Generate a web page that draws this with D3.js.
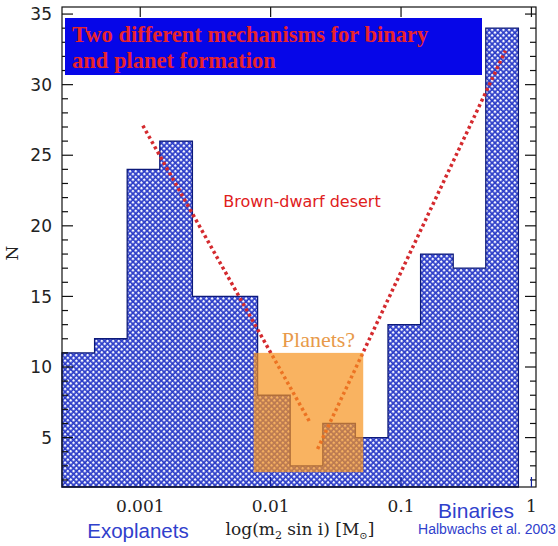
<!DOCTYPE html>
<html>
<head>
<meta charset="utf-8">
<script src="https://cdn.jsdelivr.net/npm/d3@7"></script>
<style>
  body { margin: 0; background: #fff; }
  svg { display: block; }
</style>
</head>
<body>
<div id="chart"></div>
<script>
// bin edges in log10(m2 sin i / Msun), 0.25 dex wide
var binEdges = [-3.6, -3.35, -3.1, -2.85, -2.6, -2.35, -2.1, -1.85, -1.6, -1.35, -1.1, -0.85, -0.6, -0.35, -0.1];
var counts = [11, 12, 24, 26, 15, 15, 8, 3, 6, 5, 13, 18, 17, 34];
var xTicks = [0.001, 0.01, 0.1, 1];
var xTickLabels = ["0.001", "0.01", "0.1", "1"];
var yTicks = [5, 10, 15, 20, 25, 30, 35];

// annotations, in data units: [log mass, N]
var desertLeft = [[-2.98, 27.1], [-1.70, 6.1]];
var desertRight = [[-1.64, 4.2], [-0.20, 32.4]];
var planetBox = { x0: -2.13, x1: -1.29, y0: 2.55, y1: 11 };

var width = 558, height = 546;

var svg = d3.select("#chart").append("svg")
  .attr("width", width)
  .attr("height", height);

var x = d3.scaleLinear().domain([-3.6, 0.035]).range([62, 536]);
var y = d3.scaleLinear().domain([1.5, 35.5]).range([487, 7]);

// diamond cross-hatch
var defs = svg.append("defs");
var pat = defs.append("pattern")
  .attr("id", "hatch")
  .attr("patternUnits", "userSpaceOnUse")
  .attr("patternTransform", "rotate(45)")
  .attr("width", 4).attr("height", 4);
pat.append("rect").attr("width", 4).attr("height", 4).attr("fill", "#2a3bc8");
pat.append("rect").attr("x", 0).attr("y", 0).attr("width", 2.3).attr("height", 2.3).attr("fill", "#f6f7ff");

// histogram outline
var pts = [[binEdges[0], y.domain()[0]]];
counts.forEach(function (c, i) {
  pts.push([binEdges[i], c]);
  pts.push([binEdges[i + 1], c]);
});
pts.push([binEdges[binEdges.length - 1], y.domain()[0]]);

var line = d3.line()
  .x(function (d) { return x(d[0]); })
  .y(function (d) { return y(d[1]); });

svg.append("path")
  .attr("d", line(pts) + "Z")
  .attr("fill", "url(#hatch)")
  .attr("stroke", "#0d1a7a")
  .attr("stroke-width", 1.3);

// frame
svg.append("rect")
  .attr("x", x.range()[0]).attr("y", y.range()[1])
  .attr("width", x.range()[1] - x.range()[0])
  .attr("height", y.range()[0] - y.range()[1])
  .attr("fill", "none")
  .attr("stroke", "#111")
  .attr("stroke-width", 1.2);

// y ticks, both sides
var g = svg.append("g").attr("stroke", "#111").attr("stroke-width", 1.2);
d3.range(2, 36).forEach(function (v) {
  var len = v % 5 === 0 ? 11 : 6;
  g.append("line").attr("x1", x.range()[0]).attr("x2", x.range()[0] + len)
    .attr("y1", y(v)).attr("y2", y(v));
  g.append("line").attr("x1", x.range()[1]).attr("x2", x.range()[1] - len)
    .attr("y1", y(v)).attr("y2", y(v));
});
// x ticks, top and bottom
xTicks.forEach(function (t) {
  var px = x(Math.log10(t));
  g.append("line").attr("x1", px).attr("x2", px)
    .attr("y1", y.range()[1]).attr("y2", y.range()[1] + 10);
  g.append("line").attr("x1", px).attr("x2", px)
    .attr("y1", y.range()[0]).attr("y2", y.range()[0] - 10)
    .attr("stroke", "#1020a0");
});

svg.append("g").selectAll("text")
  .data(yTicks).enter().append("text")
  .attr("x", 52)
  .attr("y", function (d) { return y(d); })
  .attr("dy", "0.36em")
  .attr("text-anchor", "end")
  .style("font-family", "DejaVu Sans")
  .style("font-size", "17px")
  .style("fill", "#222")
  .text(function (d) { return d; });

svg.append("g").selectAll("text")
  .data(xTicks).enter().append("text")
  .attr("x", function (d) { return x(Math.log10(d)); })
  .attr("y", 512)
  .attr("text-anchor", "middle")
  .style("font-family", "DejaVu Serif")
  .style("font-size", "17px")
  .style("fill", "#222")
  .text(function (d, i) { return xTickLabels[i]; });

svg.append("text")
  .attr("transform", "translate(18,253) rotate(-90)")
  .attr("text-anchor", "middle")
  .style("font-family", "DejaVu Serif")
  .style("font-size", "17px")
  .style("fill", "#222")
  .text("N");

var xl = svg.append("text")
  .attr("x", 300).attr("y", 535)
  .attr("text-anchor", "middle")
  .style("font-family", "DejaVu Serif")
  .style("font-size", "17px")
  .style("fill", "#222");
xl.append("tspan").text("log(m");
xl.append("tspan").attr("dy", 4).style("font-size", "11px").text("2");
xl.append("tspan").attr("dy", -4).text(" sin i)  [M");
xl.append("tspan").attr("dy", 4).style("font-size", "10px").text("\u2299");
xl.append("tspan").attr("dy", -4).text("]");

// red dotted "desert" lines
[desertLeft, desertRight].forEach(function (seg) {
  svg.append("path")
    .attr("d", line(seg))
    .attr("fill", "none")
    .attr("stroke", "#d42a2e")
    .attr("stroke-width", 3.5)
    .attr("stroke-dasharray", "3,3");
});

// planets box
svg.append("rect")
  .attr("x", x(planetBox.x0))
  .attr("y", y(planetBox.y1))
  .attr("width", x(planetBox.x1) - x(planetBox.x0))
  .attr("height", y(planetBox.y0) - y(planetBox.y1))
  .attr("fill", "#f7931e")
  .attr("fill-opacity", 0.7);

svg.append("text")
  .attr("x", x((planetBox.x0 + planetBox.x1) / 2) + 10)
  .attr("y", 347)
  .attr("text-anchor", "middle")
  .style("font-family", "Liberation Serif")
  .style("font-size", "22px")
  .style("fill", "#e89a4a")
  .text("Planets?");

svg.append("text")
  .attr("x", 302).attr("y", 207)
  .attr("text-anchor", "middle")
  .style("font-family", "DejaVu Sans")
  .style("font-size", "16px")
  .style("fill", "#e0201c")
  .text("Brown-dwarf desert");

// title box
svg.append("rect")
  .attr("x", 65).attr("y", 18)
  .attr("width", 417).attr("height", 57)
  .attr("fill", "#0606e8");
svg.append("g").selectAll("text")
  .data(["Two different mechanisms for binary", "and planet formation"])
  .enter().append("text")
  .attr("x", 72)
  .attr("y", function (d, i) { return 42 + i * 26; })
  .style("font-family", "Liberation Serif")
  .style("font-weight", "bold")
  .style("font-size", "22.5px")
  .style("fill", "#e8242c")
  .text(function (d) { return d; });

// blue side labels
var blue = "#3040cc";
svg.append("text")
  .attr("x", 138).attr("y", 538)
  .attr("text-anchor", "middle")
  .style("font-family", "Liberation Sans")
  .style("font-size", "20.5px")
  .style("fill", blue)
  .text("Exoplanets");
svg.append("text")
  .attr("x", 476).attr("y", 518)
  .attr("text-anchor", "middle")
  .style("font-family", "Liberation Sans")
  .style("font-size", "21px")
  .style("fill", blue)
  .text("Binaries");
svg.append("text")
  .attr("x", 487).attr("y", 534)
  .attr("text-anchor", "middle")
  .style("font-family", "Liberation Sans")
  .style("font-size", "14px")
  .style("fill", blue)
  .text("Halbwachs et al. 2003");
</script>
</body>
</html>
